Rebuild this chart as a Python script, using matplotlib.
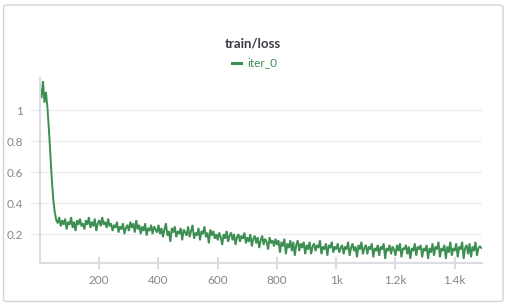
import numpy as np
import matplotlib
matplotlib.use("Agg")
import matplotlib.pyplot as plt
from matplotlib.patches import FancyBboxPatch

# ---- data ----
step_size = 5
loss_values = [
    1.15, 1.08, 1.19, 1.05, 1.12, 1.02, 0.88, 0.72, 0.55, 0.42, 0.34, 0.29,
    0.27, 0.31, 0.25, 0.29, 0.26, 0.30, 0.23, 0.28,
    0.26, 0.31, 0.24, 0.28, 0.22, 0.29, 0.26, 0.30, 0.25, 0.27, 0.23, 0.29, 0.26, 0.31, 0.24, 0.28, 0.25, 0.30, 0.22, 0.27,
    0.29, 0.25, 0.31, 0.26, 0.28, 0.24, 0.30, 0.25, 0.27, 0.22, 0.26, 0.24, 0.28, 0.21, 0.25, 0.23, 0.27, 0.20, 0.24, 0.26,
    0.22, 0.28, 0.24, 0.27, 0.21, 0.29, 0.23, 0.26, 0.20, 0.25, 0.22, 0.27, 0.19, 0.24, 0.22, 0.26, 0.20, 0.25, 0.23, 0.21,
    0.26, 0.20, 0.24, 0.18, 0.23, 0.27, 0.19, 0.22, 0.15, 0.24, 0.21, 0.25, 0.18, 0.22, 0.20, 0.24, 0.16, 0.23, 0.21, 0.19,
    0.25, 0.18, 0.22, 0.26, 0.17, 0.21, 0.19, 0.24, 0.16, 0.22, 0.20, 0.25, 0.18, 0.21, 0.14, 0.23, 0.19, 0.22, 0.17, 0.20,
    0.16, 0.21, 0.18, 0.13, 0.20, 0.17, 0.22, 0.15, 0.19, 0.21, 0.16, 0.20, 0.13, 0.18, 0.20, 0.15, 0.19, 0.17, 0.21, 0.14,
    0.18, 0.15, 0.20, 0.12, 0.17, 0.19, 0.14, 0.18, 0.11, 0.16, 0.19, 0.13, 0.17, 0.15, 0.10, 0.18, 0.14, 0.16, 0.12, 0.17,
    0.13, 0.16, 0.08, 0.15, 0.12, 0.17, 0.07, 0.14, 0.11, 0.16, 0.09, 0.15, 0.06, 0.13, 0.16, 0.09, 0.14, 0.11, 0.15, 0.07,
    0.13, 0.10, 0.15, 0.07, 0.12, 0.14, 0.09, 0.13, 0.11, 0.16, 0.07, 0.12, 0.10, 0.14, 0.06, 0.13, 0.11, 0.15, 0.08, 0.12,
    0.10, 0.14, 0.08, 0.11, 0.13, 0.07, 0.12, 0.10, 0.15, 0.06, 0.11, 0.14, 0.09, 0.12, 0.05, 0.13, 0.10, 0.15, 0.07, 0.11,
    0.13, 0.07, 0.12, 0.10, 0.14, 0.05, 0.11, 0.09, 0.13, 0.06, 0.12, 0.10, 0.14, 0.04, 0.11, 0.09, 0.13, 0.07, 0.12, 0.10,
    0.06, 0.13, 0.09, 0.14, 0.05, 0.11, 0.10, 0.13, 0.07, 0.12, 0.04, 0.11, 0.09, 0.14, 0.06, 0.12, 0.10, 0.13, 0.05, 0.11,
    0.09, 0.13, 0.04, 0.11, 0.08, 0.14, 0.06, 0.12, 0.10, 0.15, 0.05, 0.11, 0.09, 0.13, 0.04, 0.12, 0.08, 0.15, 0.06, 0.11,
    0.09, 0.14, 0.05, 0.12, 0.10, 0.15, 0.04, 0.11, 0.13, 0.07, 0.14, 0.05, 0.12, 0.09, 0.15, 0.06, 0.11, 0.12, 0.11,
]
steps = np.arange(len(loss_values)) * step_size
x_ticks = [200, 400, 600, 800, 1000, 1200, 1400]
x_tick_labels = ["200", "400", "600", "800", "1k", "1.2k", "1.4k"]
y_ticks = [0.2, 0.4, 0.6, 0.8, 1.0]
y_tick_labels = ["0.2", "0.4", "0.6", "0.8", "1"]
title = "train/loss"
series_name = "iter_0"

# ---- style ----
plt.rcParams['font.family'] = ['Lato', 'DejaVu Sans']
green = "#3d8e52"
tick_gray = "#868692"
grid_gray = "#efeff2"
axis_gray = "#dcdce2"

fig = plt.figure(figsize=(5.08, 3.05), dpi=100)
W, H = 508, 305

# card border
card = FancyBboxPatch((3.5 / W, 3.5 / H), 499.5 / W, 296.5 / H,
                      boxstyle="round,pad=0,rounding_size=0.008",
                      transform=fig.transFigure, facecolor="none",
                      edgecolor="#d2d2da", linewidth=1.0, zorder=0)
fig.patches.append(card)

ax = fig.add_axes([40 / W, (H - 263) / H, 442 / W, 185 / H])
ax.set_facecolor("none")
ax.plot(steps, loss_values, color=green, linewidth=1.4, solid_joinstyle="miter")

ax.set_xlim(0, 1492)
ax.set_ylim(0.013, 1.21)
ax.set_xticks(x_ticks)
ax.set_xticklabels(x_tick_labels)
ax.set_yticks(y_ticks)
ax.set_yticklabels(y_tick_labels)

for s in ["top", "right"]:
    ax.spines[s].set_visible(False)
for s in ["left", "bottom"]:
    ax.spines[s].set_color(axis_gray)
    ax.spines[s].set_linewidth(1.5)

ax.grid(axis="y", color=grid_gray, linewidth=1.0)
ax.set_axisbelow(True)
ax.tick_params(axis="x", direction="inout", length=8, width=1.5, color=axis_gray,
               labelcolor=tick_gray, labelsize=8.5, pad=5)
ax.tick_params(axis="y", direction="out", length=7, width=1.0, color=grid_gray,
               labelcolor=tick_gray, labelsize=8.5, pad=5)

fig.text(253 / W, 1 - 44 / H, title, ha="center", va="center",
         fontsize=9.5, fontweight="bold", color="#3a3a45")
fig.lines.append(plt.Line2D([232 / W, 241 / W], [1 - 63 / H, 1 - 63 / H],
                            transform=fig.transFigure, color=green, linewidth=2.2))
fig.text(247 / W, 1 - 63 / H, series_name, ha="left", va="center",
         fontsize=8.5, color=green)

fig.savefig("out.png", dpi=100)
